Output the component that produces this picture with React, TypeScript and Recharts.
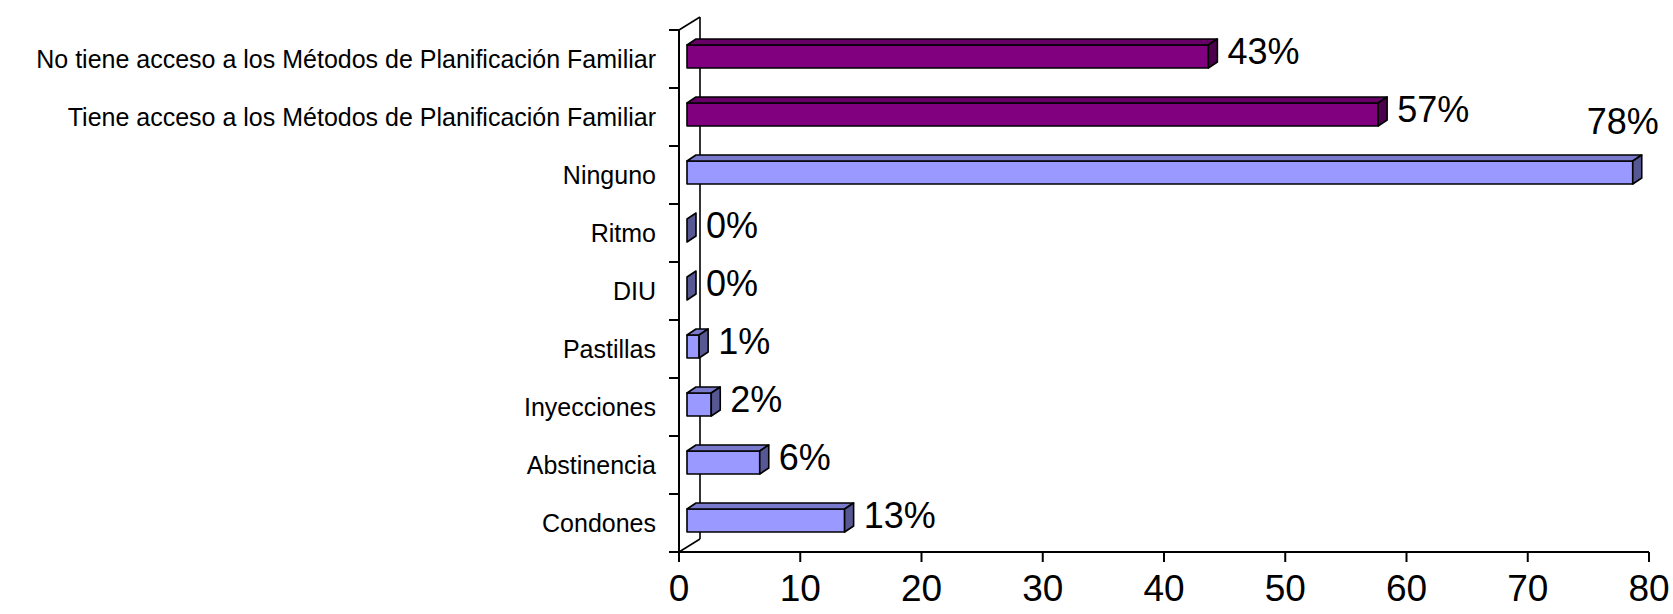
import { BarChart, Bar, XAxis, YAxis, Cell, LabelList, Customized } from 'recharts'

// Acceso a métodos de planificación familiar (%)
const accessCategories = [
  'No tiene acceso a los Métodos de Planificación Familiar',
  'Tiene acceso a los Métodos de Planificación Familiar',
]
const accessValues = [43, 57]

// Método utilizado (%)
const methodCategories = ['Ninguno', 'Ritmo', 'DIU', 'Pastillas', 'Inyecciones', 'Abstinencia', 'Condones']
const methodValues = [78, 0, 0, 1, 2, 6, 13]

const xTicks = [0, 10, 20, 30, 40, 50, 60, 70, 80]

const data = [
  ...accessCategories.map((name, i) => ({ name, value: accessValues[i], group: 'access' })),
  ...methodCategories.map((name, i) => ({ name, value: methodValues[i], group: 'method' })),
]

const W = 1673
const H = 614
const X_AXIS_H = 62
const MARGIN = { top: 30, right: 24, bottom: 0, left: 0 }
const Y_AXIS_W = 679
const PLOT_BOTTOM = H - MARGIN.bottom - X_AXIS_H
const BAND = (PLOT_BOTTOM - MARGIN.top) / data.length
const FONT = '"Liberation Sans", Arial, sans-serif'

// 3D look
const GAP = 8 // bar starts a bit right of the axis
const DX = 9
const DY = -6
const LIFT = -3
const WALL_DX = 21
const WALL_DY = -13

const palette = {
  access: { front: '#800080', top: '#660066', side: '#4d004d' },
  method: { front: '#9999ff', top: '#7a7acc', side: '#575794' },
}

const Bar3D = (props: any) => {
  const { x, y, width, height, payload } = props
  const c = palette[payload.group as 'access' | 'method']
  const x0 = x + GAP
  const y0 = y + LIFT
  const w = Math.max(0, width)
  const h = height
  const top = `${x0},${y0} ${x0 + DX},${y0 + DY} ${x0 + w + DX},${y0 + DY} ${x0 + w},${y0}`
  const side = `${x0 + w},${y0} ${x0 + w + DX},${y0 + DY} ${x0 + w + DX},${y0 + h + DY} ${x0 + w},${y0 + h}`
  return (
    <g stroke="#000" strokeWidth={1.6} strokeLinejoin="round">
      {w > 0 && <rect x={x0} y={y0} width={w} height={h} fill={c.front} />}
      {w > 0 && <polygon points={top} fill={c.top} />}
      <polygon points={side} fill={c.side} />
    </g>
  )
}

const ValueLabel = (props: any) => {
  const { x, y, width, height, value } = props
  const x0 = x + GAP
  const y0 = y + LIFT
  const end = x0 + width + DX
  const text = `${value}%`
  const fs = 36
  const approxW = text.length * fs * 0.6
  if (end + 10 + approxW > W) {
    return (
      <text x={end - 19} y={y0 - 27} textAnchor="middle" fontSize={fs} fontFamily={FONT} fill="#000">
        {text}
      </text>
    )
  }
  return (
    <text x={end + 10} y={y0 + height / 2 - 6 + 13} fontSize={fs} fontFamily={FONT} fill="#000">
      {text}
    </text>
  )
}

const CategoryTick = (props: any) => {
  const { x, y, payload, index } = props
  const axisX = Y_AXIS_W
  const last = index === data.length - 1
  return (
    <g>
      <text x={x} y={y + 9} textAnchor="end" fontSize={25} fontFamily={FONT} fill="#000">
        {payload.value}
      </text>
      <line x1={axisX - 10} x2={axisX} y1={y - BAND / 2} y2={y - BAND / 2} stroke="#000" strokeWidth={2} />
      {last && <line x1={axisX - 10} x2={axisX} y1={y + BAND / 2} y2={y + BAND / 2} stroke="#000" strokeWidth={2} />}
    </g>
  )
}

const Walls = () => {
  const left = Y_AXIS_W
  const top = MARGIN.top
  const bottom = PLOT_BOTTOM
  return (
    <g stroke="#000" strokeWidth={1.6} fill="none">
      <line x1={left + WALL_DX} y1={top + WALL_DY} x2={left + WALL_DX} y2={bottom + WALL_DY} />
      <line x1={left} y1={top} x2={left + WALL_DX} y2={top + WALL_DY} />
      <line x1={left} y1={bottom} x2={left + WALL_DX} y2={bottom + WALL_DY} />
    </g>
  )
}

export default function App() {
  return (
    <div style={{ position: 'absolute', left: 0, top: 0, width: W, height: H, background: '#fff' }}>
      <BarChart width={W} height={H} data={data} layout="vertical" margin={MARGIN} barSize={23}>
        <Customized component={<Walls />} />
        <XAxis
          type="number"
          domain={[0, 80]}
          ticks={xTicks}
          interval={0}
          height={X_AXIS_H}
          tickSize={10}
          tickMargin={13}
          axisLine={{ stroke: '#000', strokeWidth: 2 }}
          tickLine={{ stroke: '#000', strokeWidth: 2 }}
          tick={{ fontSize: 37, fill: '#000', fontFamily: FONT }}
        />
        <YAxis
          type="category"
          dataKey="name"
          width={Y_AXIS_W}
          interval={0}
          tickSize={10}
          tickMargin={13}
          tickLine={false}
          axisLine={{ stroke: '#000', strokeWidth: 2 }}
          tick={<CategoryTick />}
        />
        <Bar dataKey="value" shape={<Bar3D />} isAnimationActive={false}>
          {data.map((d, i) => (
            <Cell key={i} fill={palette[d.group as 'access' | 'method'].front} />
          ))}
          <LabelList dataKey="value" content={<ValueLabel />} />
        </Bar>
      </BarChart>
    </div>
  )
}
